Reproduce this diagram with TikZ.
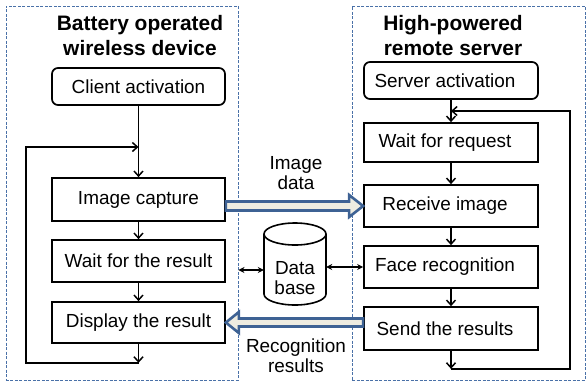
\documentclass[tikz,border=0pt]{standalone}
\usepackage{fontspec}
\setmainfont{Liberation Sans}
\usetikzlibrary{arrows.meta,calc}
\definecolor{panelblue}{HTML}{4A71A8}
\definecolor{arrowblue}{HTML}{3E6294}
\definecolor{arrowfill}{HTML}{EEECE1}

\begin{document}
\begin{tikzpicture}[x=1bp,y=-1bp,
  every node/.style={font=\fontsize{19}{20}\selectfont},
  box/.style={draw, line width=1.7bp, minimum width=173bp, minimum height=42bp, inner sep=0pt},
  startbox/.style={box, rounded corners=6bp, minimum height=37bp},
  title/.style={font=\fontsize{21}{25}\selectfont\bfseries, align=center},
  panel/.style={draw=panelblue, dash pattern=on 3bp off 1.5bp, line width=0.9bp, inner sep=0pt},
  flow/.style={line width=1.7bp, -{Straight Barb[length=5bp,width=9bp,line width=1.5bp]}},
  dbl/.style={line width=1.3bp, {Stealth[length=6bp,width=6bp]}-{Stealth[length=6bp,width=6bp]}},
  fat/.style={draw=arrowblue, fill=arrowfill, line width=2.6bp, line join=miter},
  lbl/.style={align=center}]
\useasboundingbox (0,0) rectangle (587,383);

% the two dashed frames
\node[panel, minimum width=232bp, minimum height=374bp] (lpanel) at (122,193) {};
\node[panel, minimum width=233bp, minimum height=374bp] (rpanel) at (468.5,193) {};

% frame headings
\node[title] (ltitle) at (140,35.5) {Battery operated\\wireless device};
\node[title] (rtitle) at (453,35.5) {High-powered\\remote server};

% client side
\node[startbox] (client) at (138.5,86.5) {Client activation};
\node[box, minimum height=43bp] (cap) at (138.5,199.5) {Image capture};
\node[box] (wres) at (138.5,261) {Wait for the result};
\node[box, minimum height=41bp] (disp) at (138.5,322.5) {Display the result};

% server side
\node[startbox, minimum width=174bp] (server) at (451,80.5) {Server activation\hspace*{12bp}};
\node[box, minimum width=174bp, minimum height=39bp] (wreq) at (451,142.5) {Wait for request\hspace*{12bp}};
\node[box, minimum width=174bp] (recv) at (451,206) {Receive image\hspace*{12bp}};
\node[box, minimum width=174bp] (face) at (451,267) {Face recognition\hspace*{12bp}};
\node[box, minimum width=174bp, minimum height=43bp] (send) at (451,328.5) {Send the results\hspace*{12bp}};

% client flow and its loop
\coordinate (lbot) at ($(disp.south)+(0,19)$);
\coordinate (lup) at (26,147);
\coordinate (ltop) at (138.5,147);
\draw[flow] (client) -- (cap);
\draw[flow] (cap) -- (wres);
\draw[flow] (wres) -- (disp);
\draw[flow] (disp) -- (lbot);
\draw[flow] (lbot) -| (lup) -- (ltop);

% server flow and its loop
\coordinate (rbot) at ($(send.south)+(0,18)$);
\coordinate (rup) at (570,111);
\coordinate (rtop) at (451,111);
\draw[flow] (server) -- (wreq);
\draw[flow] (wreq) -- (recv);
\draw[flow] (recv) -- (face);
\draw[flow] (face) -- (send);
\draw[flow] (send) -- (rbot);
\draw[flow] (rbot) -| (rup) -- (rtop);

% database cylinder (y axis points down, so arc angles run the other way)
\node[minimum width=62bp, minimum height=82bp, inner sep=0pt] (db) at (295,264) {};
\draw[line width=1.6bp, fill=white] (264,234) -- (264,294)
  arc[start angle=180, end angle=0, x radius=31, y radius=11] -- (326,234)
  arc[start angle=0, end angle=-180, x radius=31, y radius=11] -- cycle;
\draw[line width=1.6bp] (264,234) arc[start angle=180, end angle=0, x radius=31, y radius=11];
\node[lbl] (dbt) at (295,278) {Data\\base};

% database links
\coordinate (lpE) at (lpanel.east |- 0,270);
\draw[dbl] (lpE) -- (db.west |- lpE);
\draw[dbl] (db.east |- face.west) -- (face.west);

% image data transfer
\coordinate (ia0) at (cap.east |- recv.west);
\coordinate (ia1) at (recv.west);
\draw[fat] ($(ia0)+(0,-4.5)$) -- ($(ia1)+(-14,-4.5)$) -- ($(ia1)+(-14,-11)$) -- (ia1)
  -- ($(ia1)+(-14,11)$) -- ($(ia1)+(-14,4.5)$) -- ($(ia0)+(0,4.5)$) -- cycle;
\node[lbl] (lblimg) at (296,173.5) {Image\\data};

% recognition results transfer
\coordinate (ra0) at (send.west |- disp.east);
\coordinate (ra1) at (disp.east);
\draw[fat] ($(ra0)+(0,-4)$) -- ($(ra1)+(13,-4)$) -- ($(ra1)+(13,-10.5)$) -- (ra1)
  -- ($(ra1)+(13,10.5)$) -- ($(ra1)+(13,4)$) -- ($(ra0)+(0,4)$) -- cycle;
\node[lbl] (lblrec) at (296,356) {Recognition\\results};
\end{tikzpicture}
\end{document}
